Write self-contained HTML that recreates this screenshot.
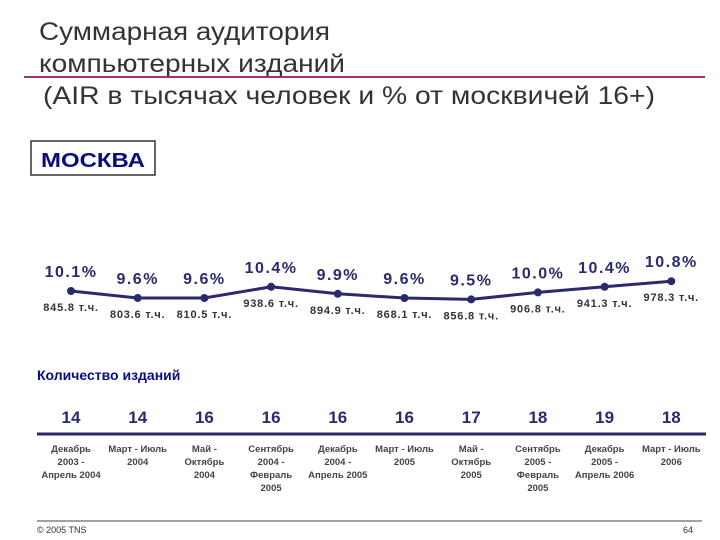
<!DOCTYPE html>
<html><head><meta charset="utf-8"><style>
body{margin:0;background:#fff;}
svg{display:block;font-family:"Liberation Sans",sans-serif;}
</style></head><body>
<svg id="c" width="720" height="540" viewBox="0 0 720 540">
<g font-size="25" fill="#333">
<text x="39" y="40" textLength="291" lengthAdjust="spacingAndGlyphs">Суммарная аудитория</text>
<text x="39" y="72" textLength="306" lengthAdjust="spacingAndGlyphs">компьютерных изданий</text>
<text x="43" y="104" textLength="612" lengthAdjust="spacingAndGlyphs">(AIR в тысячах человек и % от москвичей 16+)</text>
</g>
<line x1="24" y1="77" x2="705" y2="77" stroke="#a0307a" stroke-width="2"/>
<rect x="31" y="141" width="124" height="34" fill="#fff" stroke="#333" stroke-width="1.5"/>
<text x="41" y="167" font-size="20" font-weight="bold" fill="#0b0b80" textLength="104" lengthAdjust="spacingAndGlyphs">МОСКВА</text>
<g id="line-chart"></g>
<text x="37" y="380" font-size="14" font-weight="bold" fill="#0b0b80">Количество изданий</text>
<line x1="37" y1="434" x2="706" y2="434" stroke="#2a2a6e" stroke-width="3"/>
<g id="counts"></g>
<line x1="37" y1="521" x2="702" y2="521" stroke="#444" stroke-width="1"/>
<text x="37" y="533" font-size="9" fill="#333">© 2005 TNS</text>
<text x="683" y="533" font-size="9" fill="#333">64</text>
</svg>
<script>
const periods = [["Декабрь","2003 -","Апрель 2004"],["Март - Июль","2004"],["Май -","Октябрь","2004"],["Сентябрь","2004 -","Февраль","2005"],["Декабрь","2004 -","Апрель 2005"],["Март - Июль","2005"],["Май -","Октябрь","2005"],["Сентябрь","2005 -","Февраль","2005"],["Декабрь","2005 -","Апрель 2006"],["Март - Июль","2006"]];
const percents = [10.1, 9.6, 9.6, 10.4, 9.9, 9.6, 9.5, 10.0, 10.4, 10.8];
const audience = [845.8, 803.6, 810.5, 938.6, 894.9, 868.1, 856.8, 906.8, 941.3, 978.3];
const issues = [14, 14, 16, 16, 16, 16, 17, 18, 19, 18];

const NS = "http://www.w3.org/2000/svg";
function xPos(i){ return 71 + i * 66.7; }
function yPos(p){ return 291 - (p - 10.1) * 14; }
function mk(tag, attrs, parent){
  const e = document.createElementNS(NS, tag);
  for (const k in attrs) e.setAttribute(k, attrs[k]);
  parent.appendChild(e); return e;
}
const g = document.getElementById('line-chart');
const pts = percents.map((p,i)=>xPos(i)+","+yPos(p)).join(" ");
const pl = mk('polyline', {points: pts, fill:'none', stroke:'#2a2a6e', 'stroke-width':3}, g);


percents.forEach((p,i)=>{
  const x = xPos(i), y = yPos(p);
  const c = mk('circle', {cx:x, cy:y, r:4, fill:'#2a2a6e'}, g);
  
  
  const t = mk('text', {x:x, y:y-14, 'text-anchor':'middle', 'font-size':16, 'font-weight':'bold', fill:'#2a2a6e', 'letter-spacing':1.5}, g);
  t.textContent = p.toFixed(1) + "%";
  
  
  const v = mk('text', {x:x, y:y+20, 'text-anchor':'middle', 'font-size':11, 'font-weight':'bold', fill:'#333', 'letter-spacing':0.8}, g);
  v.textContent = audience[i].toFixed(1) + " т.ч.";
  
  
});
const cg = document.getElementById('counts');
issues.forEach((n,i)=>{
  const x = xPos(i);
  const t = mk('text', {x:x, y:423, 'text-anchor':'middle', 'font-size':17, 'font-weight':'bold', fill:'#2a2a6e'}, cg);
  t.textContent = n;
  
  
  periods[i].forEach((line,j)=>{
    const l = mk('text', {x:x, y:452 + j*13, 'text-anchor':'middle', 'font-size':9.5, 'font-weight':'bold', fill:'#444'}, cg);
    l.textContent = line;
    
    
  });
});
</script>
</body></html>
